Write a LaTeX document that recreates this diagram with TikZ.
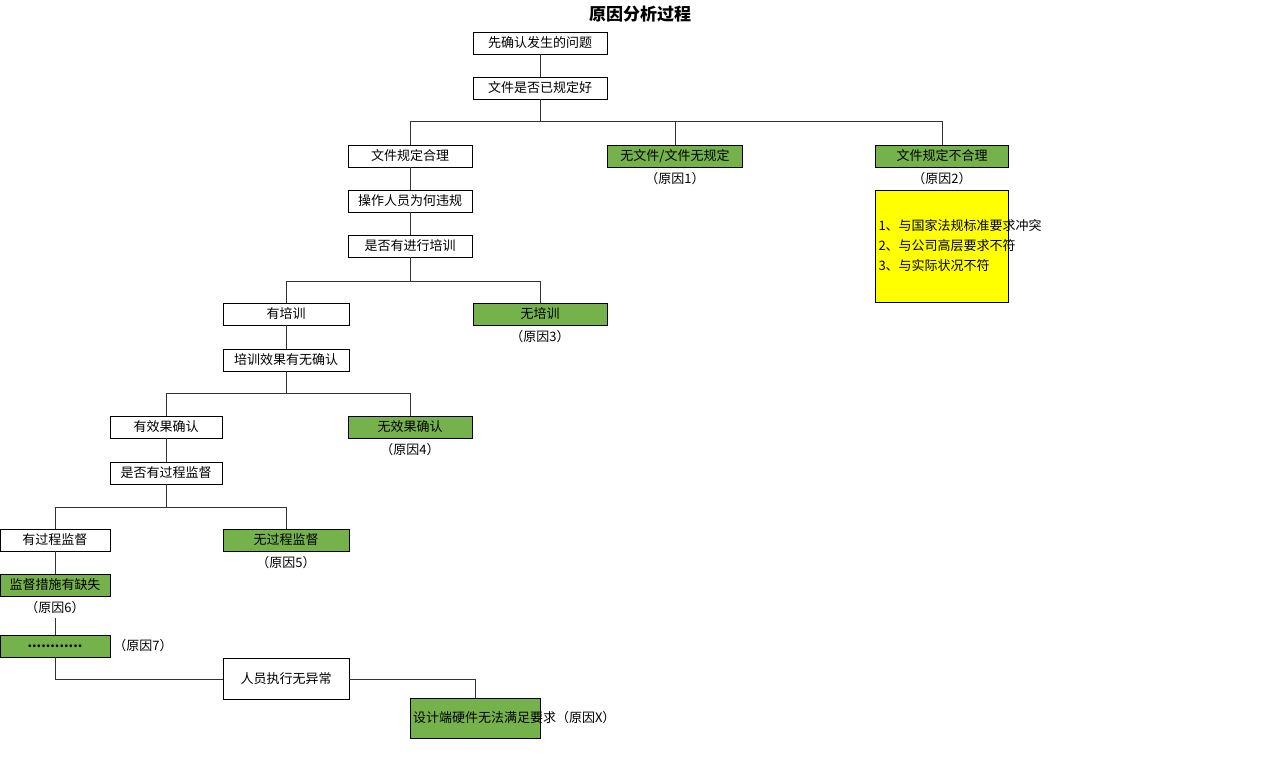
\documentclass[tikz,border=0pt]{standalone}
\usepackage{fontspec}
\setmainfont{Noto Sans CJK SC}
\usetikzlibrary{positioning}
\definecolor{cgreen}{RGB}{118,178,76}
\definecolor{cyellow}{RGB}{255,255,0}
\tikzset{
  box/.style={draw, fill=white, minimum height=22pt, inner sep=1pt, font=\fontsize{13}{15}\selectfont},
  cause/.style={box, fill=cgreen},
  note/.style={font=\fontsize{13}{15}\selectfont},
  link/.style={draw=black!80, line width=0.8pt}
}
\begin{document}
\begin{tikzpicture}[x=1pt, y=-1pt]
  \useasboundingbox (0,0) rectangle (1278,759);
  \node[font=\fontsize{17}{20}\selectfont\bfseries] (title) at (640,14) {原因分析过程};
  \node[box, minimum width=134pt] (a) at (540,43)  {先确认发生的问题};
  \node[box, minimum width=134pt] (b) at (540,88)  {文件是否已规定好};
  \node[box, minimum width=124pt] (c) at (410,156) {文件规定合理};
  \node[cause, minimum width=135pt] (d) at (675,156) {无文件/文件无规定};
  \node[cause, minimum width=133pt] (e) at (942,156) {文件规定不合理};
  \node[note] (d1) at (675,179) {（原因1）};
  \node[note] (e1) at (942,179) {（原因2）};
  \node[draw, fill=cyellow, minimum width=133pt, minimum height=112pt, text width=127pt,
        inner sep=2pt, align=left, font=\fontsize{13}{20}\selectfont] (y) at (942,246)
        {1、与国家法规标准要求冲突\\2、与公司高层要求不符\\3、与实际状况不符};
  \node[box, minimum width=124pt] (f) at (410,201) {操作人员为何违规};
  \node[box, minimum width=124pt] (g) at (410,246) {是否有进行培训};
  \node[box, minimum width=126pt] (h) at (286,314) {有培训};
  \node[cause, minimum width=134pt] (i) at (540,314) {无培训};
  \node[note] (i1) at (540,337) {（原因3）};
  \node[box, minimum width=126pt] (j) at (286,360) {培训效果有无确认};
  \node[box, minimum width=112pt] (k) at (166,427) {有效果确认};
  \node[cause, minimum width=124pt] (l) at (410,427) {无效果确认};
  \node[note] (l1) at (410,450) {（原因4）};
  \node[box, minimum width=112pt] (m) at (166,473) {是否有过程监督};
  \node[box, minimum width=110pt] (n) at (55,540)  {有过程监督};
  \node[cause, minimum width=126pt] (o) at (286,540) {无过程监督};
  \node[note] (o1) at (286,563) {（原因5）};
  \node[cause, minimum width=110pt] (p) at (55,585) {监督措施有缺失};
  \node[note] (p1) at (55,608) {（原因6）};
  \node[cause, minimum width=110pt] (q) at (55,646) {\textbf{............}};
  \node[note] (q1) at (143,646) {（原因7）};
  \node[box, minimum width=126pt, minimum height=41pt] (r) at (286,679) {人员执行无异常};
  \node[cause, minimum width=130pt, minimum height=40pt, text width=124pt, align=center,
        font=\fontsize{13}{18}\selectfont] (s) at (475,718) {设计端硬件无法满足要求（原因X）};

  \path[link] (a) -- (b)
    (b.south) -- ++(0,22) coordinate (b2)
    (c.north) |- (b2) -| (e.north)
    (b2) -| (d.north)
    (c) -- (f) (f) -- (g)
    (g.south) -- ++(0,24) coordinate (g2)
    (h.north) |- (g2) -| (i.north)
    (h) -- (j)
    (j.south) -- ++(0,22) coordinate (j2)
    (k.north) |- (j2) -| (l.north)
    (k) -- (m)
    (m.south) -- ++(0,23) coordinate (m2)
    (n.north) |- (m2) -| (o.north)
    (n) -- (p)
    (p1) -- (q)
    (q.south) |- (r.west)
    (r.east) -| (s.north);
\end{tikzpicture}
\end{document}
